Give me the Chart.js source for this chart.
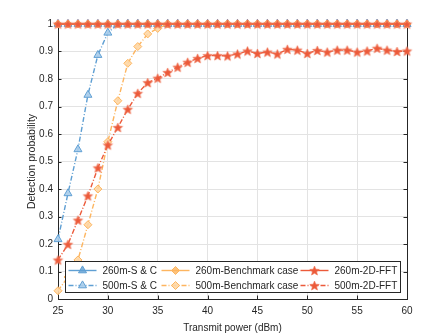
<!DOCTYPE html>
<html>
<head>
<meta charset="utf-8">
<script src="https://cdn.jsdelivr.net/npm/chart.js@4.4.1/dist/chart.umd.min.js"></script>
<style>
    html, body { margin: 0; padding: 0; background: #fff; }
    #wrap { width: 448px; height: 336px; }
</style>
</head>
<body>
<div id="wrap"><canvas id="detChart" width="448" height="336"></canvas></div>
<script>
// x values (dBm)
const power = [25, 26, 27, 28, 29, 30, 31, 32, 33, 34, 35, 36, 37, 38, 39, 40, 41, 42,
               43, 44, 45, 46, 47, 48, 49, 50, 51, 52, 53, 54, 55, 56, 57, 58, 59, 60];

// detection probability per curve
const sc260 = [1, 1, 1, 1, 1, 1, 1, 1, 1, 1, 1, 1, 1, 1, 1, 1, 1, 1,
               1, 1, 1, 1, 1, 1, 1, 1, 1, 1, 1, 1, 1, 1, 1, 1, 1, 1];
const sc500 = [0.217, 0.384, 0.544, 0.742, 0.887, 0.968, 1, 1, 1, 1, 1, 1, 1, 1, 1, 1, 1, 1,
               1, 1, 1, 1, 1, 1, 1, 1, 1, 1, 1, 1, 1, 1, 1, 1, 1, 1];
const bench260 = [1, 1, 1, 1, 1, 1, 1, 1, 1, 1, 1, 1, 1, 1, 1, 1, 1, 1,
                  1, 1, 1, 1, 1, 1, 1, 1, 1, 1, 1, 1, 1, 1, 1, 1, 1, 1];
const bench500 = [0.03, 0.08, 0.142, 0.27, 0.40, 0.572, 0.721, 0.857, 0.918, 0.964, 0.984, 1, 1, 1, 1, 1, 1, 1,
                  1, 1, 1, 1, 1, 1, 1, 1, 1, 1, 1, 1, 1, 1, 1, 1, 1, 1];
const fft260 = [1, 1, 1, 1, 1, 1, 1, 1, 1, 1, 1, 1, 1, 1, 1, 1, 1, 1,
                1, 1, 1, 1, 1, 1, 1, 1, 1, 1, 1, 1, 1, 1, 1, 1, 1, 1];
const fft500 = [0.142, 0.199, 0.287, 0.375, 0.477, 0.56, 0.624, 0.69, 0.748, 0.787, 0.803, 0.824,
                0.843, 0.861, 0.875, 0.885, 0.885, 0.884, 0.891, 0.902, 0.893, 0.898, 0.891, 0.908,
                0.905, 0.893, 0.904, 0.898, 0.905, 0.905, 0.898, 0.902, 0.912, 0.905, 0.900, 0.902];

const xTicks = [25, 30, 35, 40, 45, 50, 55, 60];
const yTicks = [0, 0.1, 0.2, 0.3, 0.4, 0.5, 0.6, 0.7, 0.8, 0.9, 1];

const BLUE = '#5f9fd3';
const ORANGE = '#fdb55f';
const RED = '#ec5a3a';
const DASHDOT = [5, 2, 1, 2];
const FONT = '"Liberation Sans", Arial, sans-serif';

function starPath(g, cx, cy, r) {
    g.beginPath();
    for (let i = 0; i < 10; i++) {
        const rr = i % 2 ? r * 0.45 : r;
        const a = -Math.PI / 2 + i * Math.PI / 5;
        g.lineTo(cx + rr * Math.cos(a), cy + rr * Math.sin(a));
    }
    g.closePath();
}

function makeStar(r) {
    const c = document.createElement('canvas');
    const s = Math.ceil(r * 2 + 3);
    c.width = s; c.height = s;
    const g = c.getContext('2d');
    starPath(g, s / 2, s / 2 + 0.5, r);
    g.fillStyle = RED;
    g.fill();
    g.strokeStyle = 'rgba(240,120,90,0.8)';
    g.lineWidth = 0.8;
    g.stroke();
    return c;
}
const starImg = makeStar(5);

function pts(vals) {
    return vals.map((v, i) => ({ x: power[i], y: v }));
}

function series(label, vals, color, dashed, style, fill, order) {
    return {
        label: label,
        data: pts(vals),
        borderColor: color,
        borderWidth: 1.4,
        borderDash: dashed ? DASHDOT : [],
        pointStyle: style,
        pointRadius: style === starImg ? 6 : (style === 'triangle' ? 4.6 : 4),
        pointBackgroundColor: fill,
        pointBorderColor: color,
        pointBorderWidth: 1,
        tension: 0,
        clip: false,
        order: order,
        _dashed: dashed
    };
}

const datasets = [
    series('260m-S & C', sc260, BLUE, false, 'triangle', 'rgba(95,159,211,0.8)', 5),
    series('260m-Benchmark case', bench260, ORANGE, false, 'rectRot', 'rgba(253,181,95,0.8)', 3),
    series('260m-2D-FFT', fft260, RED, false, starImg, RED, 1),
    series('500m-S & C', sc500, BLUE, true, 'triangle', 'rgba(170,205,235,0.9)', 4),
    series('500m-Benchmark case', bench500, ORANGE, true, 'rectRot', 'rgba(254,215,165,0.9)', 2),
    series('500m-2D-FFT', fft500, RED, true, starImg, RED, 0)
];

// axes box with inward ticks
const framePlugin = {
    id: 'frame',
    beforeDatasetsDraw(chart) {
        const { ctx, chartArea: a, scales } = chart;
        ctx.save();
        ctx.strokeStyle = '#262626';
        ctx.lineWidth = 1;
        ctx.strokeRect(Math.round(a.left) + 0.5, Math.round(a.top) + 0.5,
                       Math.round(a.right - a.left), Math.round(a.bottom - a.top));
        ctx.beginPath();
        xTicks.forEach(t => {
            const x = Math.round(scales.x.getPixelForValue(t)) + 0.5;
            ctx.moveTo(x, a.bottom); ctx.lineTo(x, a.bottom - 3.5);
            ctx.moveTo(x, a.top); ctx.lineTo(x, a.top + 3.5);
        });
        yTicks.forEach(t => {
            const y = Math.round(scales.y.getPixelForValue(t)) + 0.5;
            ctx.moveTo(a.left, y); ctx.lineTo(a.left + 3.5, y);
            ctx.moveTo(a.right, y); ctx.lineTo(a.right - 3.5, y);
        });
        ctx.stroke();
        ctx.restore();
    }
};

function drawMarker(ctx, ds, x, y) {
    if (ds.pointStyle === starImg) {
        ctx.drawImage(starImg, x - starImg.width / 2, y - starImg.height / 2);
        return;
    }
    const r = ds.pointRadius;
    ctx.beginPath();
    if (ds.pointStyle === 'triangle') {
        ctx.moveTo(x, y - r);
        ctx.lineTo(x + r * 0.87, y + r * 0.5);
        ctx.lineTo(x - r * 0.87, y + r * 0.5);
    } else {
        ctx.moveTo(x, y - r);
        ctx.lineTo(x + r, y);
        ctx.lineTo(x, y + r);
        ctx.lineTo(x - r, y);
    }
    ctx.closePath();
    ctx.fillStyle = ds.pointBackgroundColor;
    ctx.fill();
    ctx.setLineDash([]);
    ctx.strokeStyle = ds.borderColor;
    ctx.stroke();
}

// legend drawn inside the axes, bottom-left, 3 columns
const boxLegend = {
    id: 'boxLegend',
    afterDatasetsDraw(chart) {
        const { ctx, chartArea: a } = chart;
        const bx = Math.round(a.left) + 7.5, by = Math.round(a.bottom) - 37.5;
        const bw = 335, bh = 31;
        ctx.save();
        ctx.fillStyle = '#fff';
        ctx.fillRect(bx, by, bw, bh);
        ctx.strokeStyle = '#262626';
        ctx.lineWidth = 1;
        ctx.strokeRect(bx, by, bw, bh);
        const colX = [bx + 3, bx + 96, bx + 235];
        const rowY = [by + 9, by + 24];
        ctx.font = '10px ' + FONT;
        ctx.textBaseline = 'middle';
        ctx.textAlign = 'left';
        datasets.forEach((ds, i) => {
            const cx = colX[i % 3], cy = rowY[Math.floor(i / 3)];
            ctx.strokeStyle = ds.borderColor;
            ctx.lineWidth = 1.4;
            ctx.setLineDash(ds._dashed ? DASHDOT : []);
            ctx.beginPath();
            ctx.moveTo(cx, cy);
            ctx.lineTo(cx + 28, cy);
            ctx.stroke();
            ctx.lineWidth = 1;
            drawMarker(ctx, ds, cx + 14, cy);
            ctx.fillStyle = '#262626';
            ctx.fillText(ds.label, cx + 34, cy + 0.5);
        });
        ctx.restore();
    }
};

const ctx = document.getElementById('detChart').getContext('2d');
new Chart(ctx, {
    type: 'line',
    data: { datasets: datasets },
    plugins: [framePlugin, boxLegend],
    options: {
        responsive: false,
        animation: false,
        devicePixelRatio: 1,
        layout: { padding: { left: 0, right: 41, top: 24, bottom: 0 } },
        plugins: {
            legend: { display: false },
            tooltip: { enabled: false }
        },
        scales: {
            x: {
                type: 'linear',
                min: 25,
                max: 60,
                afterBuildTicks: s => { s.ticks = xTicks.map(v => ({ value: v })); },
                afterFit: s => { s.height = 37; },
                grid: { color: '#e3e3e3', drawTicks: false },
                border: { display: false },
                ticks: {
                    padding: 6,
                    color: '#262626',
                    font: { family: FONT, size: 10 },
                    maxRotation: 0
                },
                title: {
                    display: true,
                    text: 'Transmit power (dBm)',
                    color: '#262626',
                    font: { family: FONT, size: 10 },
                    padding: { top: 0, bottom: 2 }
                }
            },
            y: {
                type: 'linear',
                min: 0,
                max: 1,
                afterBuildTicks: s => { s.ticks = yTicks.map(v => ({ value: v })); },
                afterFit: s => { s.width = 58; },
                grid: { color: '#e3e3e3', drawTicks: false },
                border: { display: false },
                ticks: {
                    padding: 5,
                    color: '#262626',
                    font: { family: FONT, size: 10 },
                    callback: v => (v === 0 || v === 1) ? String(v) : v.toFixed(1)
                },
                title: {
                    display: true,
                    text: 'Detection probability',
                    color: '#262626',
                    font: { family: FONT, size: 10.5 },
                    padding: { top: 26, bottom: 0 }
                }
            }
        }
    }
});
</script>
</body>
</html>
